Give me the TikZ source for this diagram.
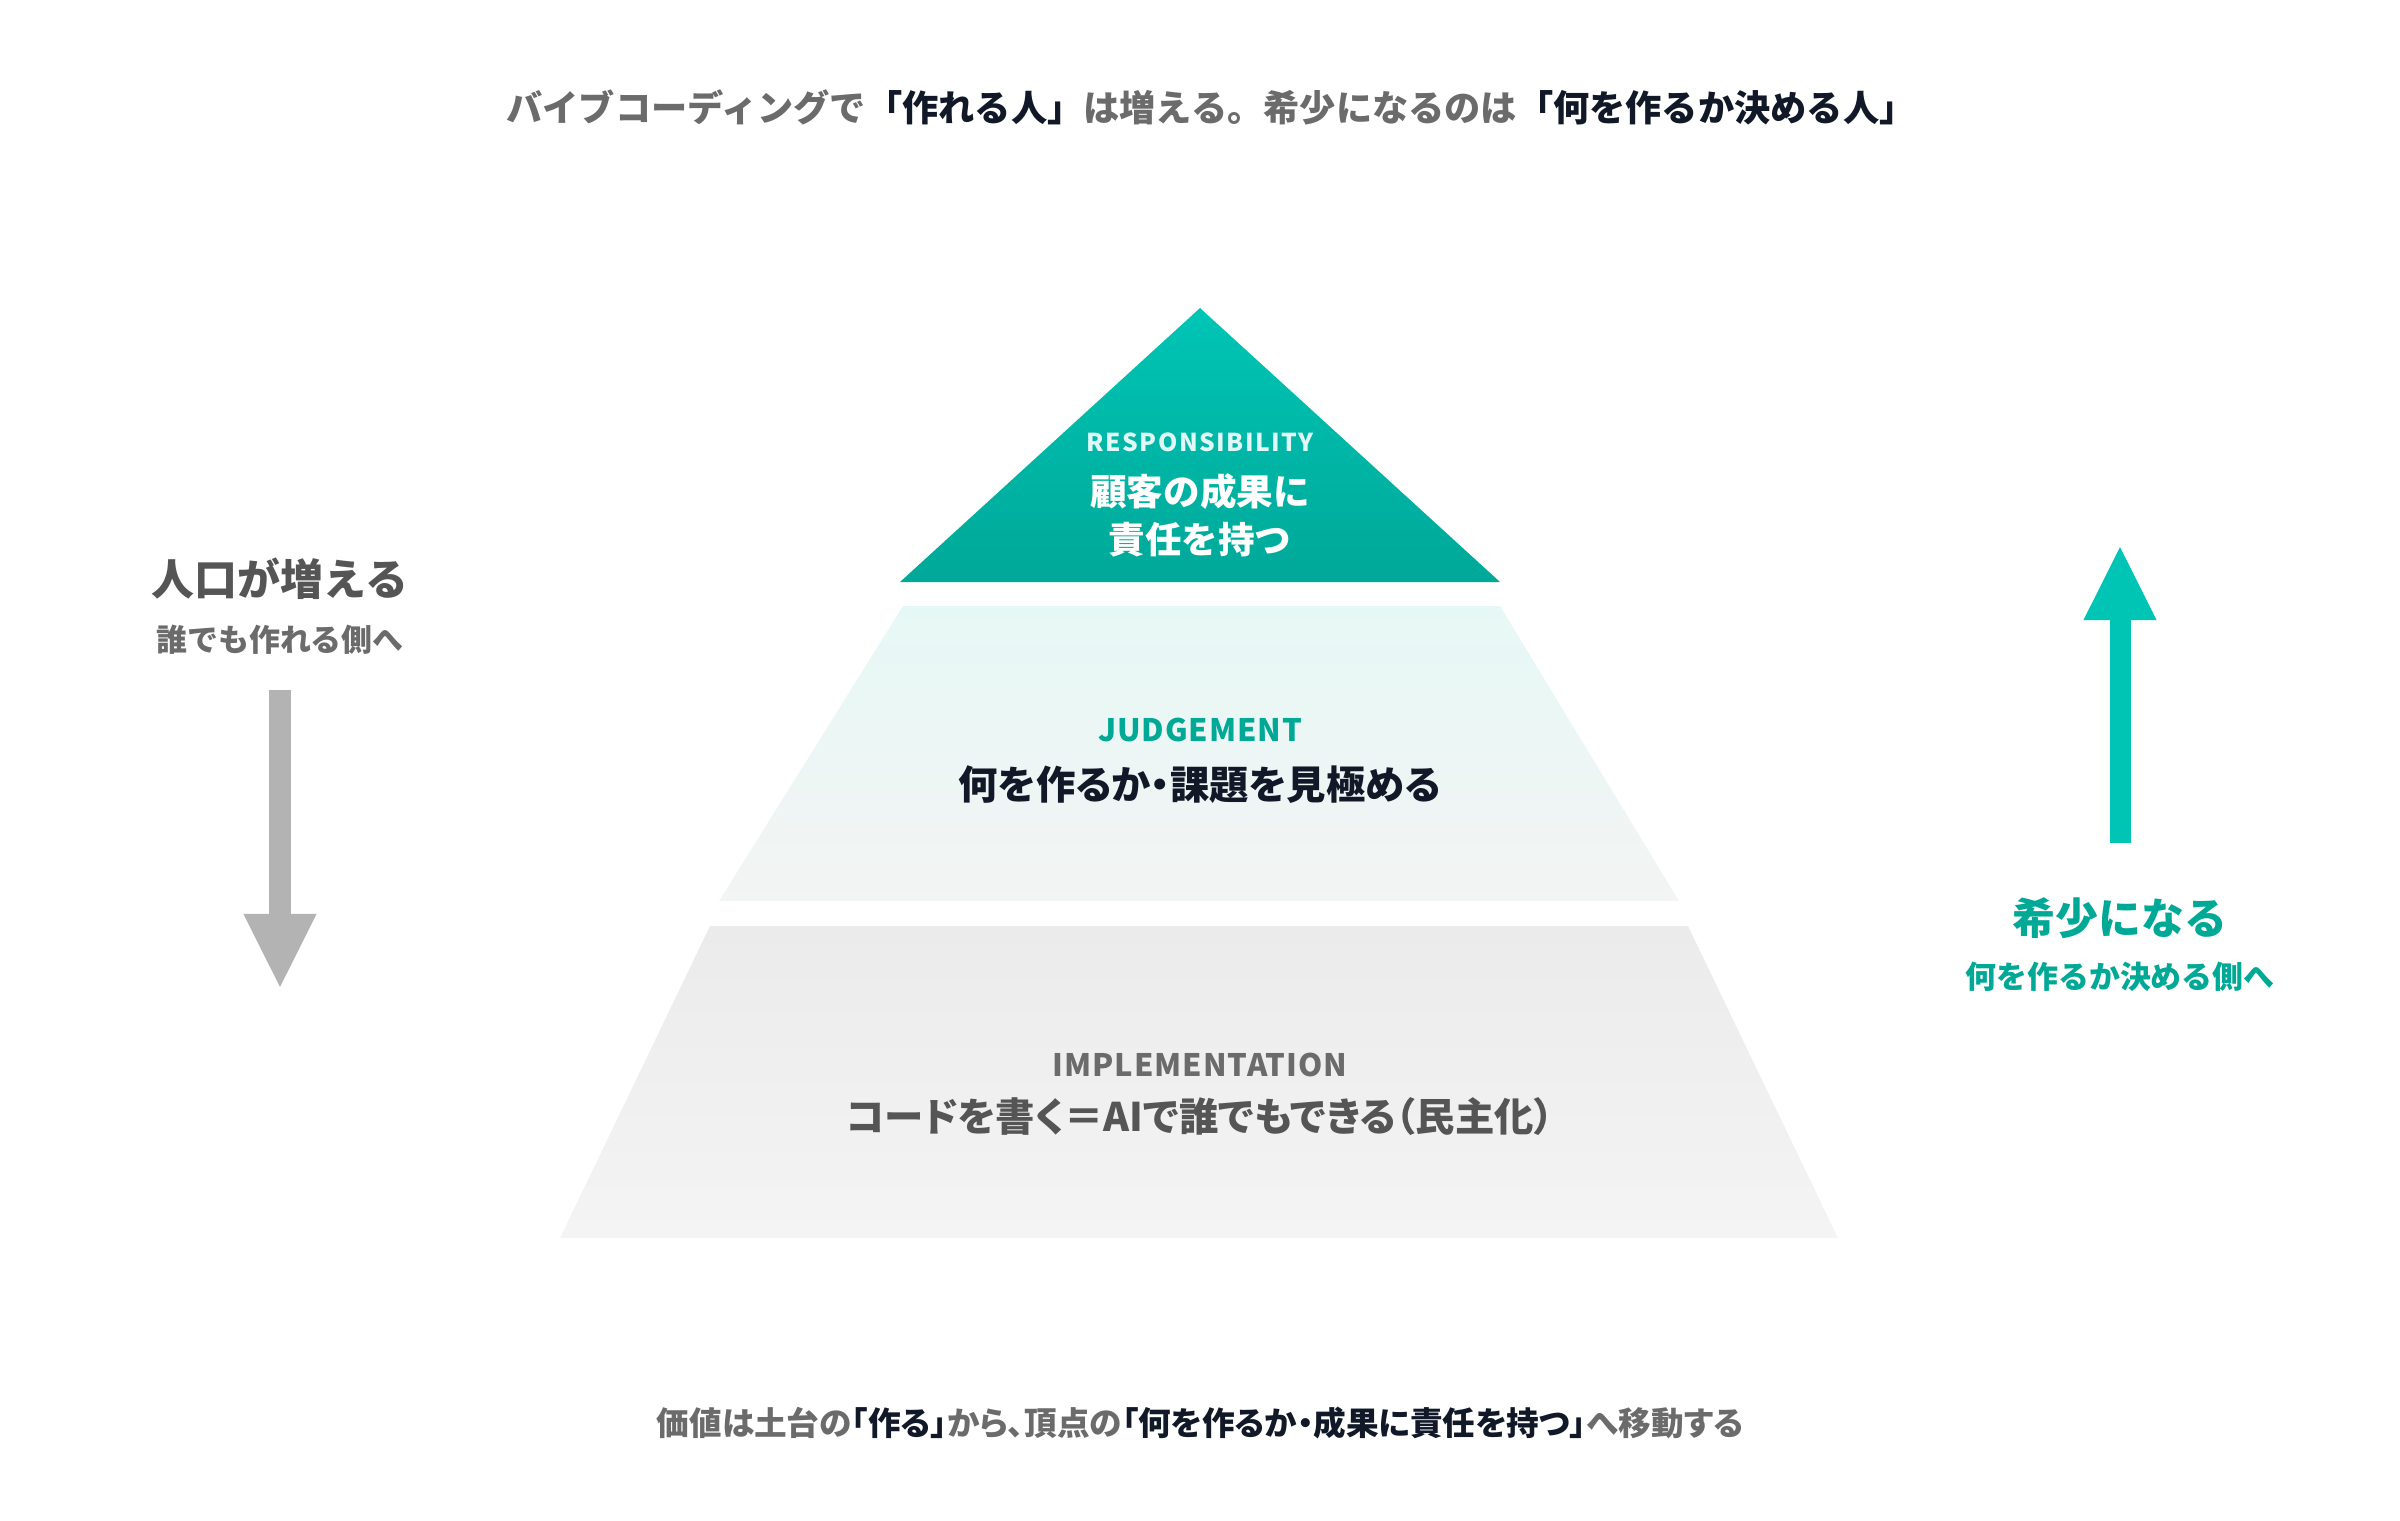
\documentclass[tikz,border=0pt]{standalone}
\usepackage{fontspec}
\setmainfont{Noto Sans CJK JP}
\usepackage{xcolor}
\usetikzlibrary{arrows.meta, positioning}
\definecolor{tealtop}{HTML}{00C5B5}
\definecolor{tealbot}{HTML}{00A898}
\definecolor{tealink}{HTML}{00A896}
\definecolor{ink}{HTML}{111827}
\definecolor{mute}{HTML}{6B6B6B}
\definecolor{charcoal}{HTML}{555555}
\definecolor{arrowgray}{HTML}{B3B3B3}
\definecolor{mintfill}{HTML}{E6F8F5}
\definecolor{mistfill}{HTML}{F3F4F4}
\definecolor{greytop}{HTML}{EBEBEB}
\definecolor{greybot}{HTML}{F4F4F4}
\newcommand{\dk}[1]{\textcolor{ink}{#1}}
\tikzset{
  headline/.style={font=\bfseries\fontsize{10.3pt}{12pt}\selectfont, text=mute, inner sep=0pt},
  tag/.style={font=\bfseries\fontsize{8.8pt}{10pt}\selectfont\addfontfeature{LetterSpace=3}, inner sep=0pt},
  toptag/.style={font=\bfseries\fontsize{7pt}{8pt}\selectfont\addfontfeature{LetterSpace=6}, inner sep=0pt},
  layertext/.style={font=\bfseries\fontsize{11.2pt}{13.7pt}\selectfont\addfontfeature{RawFeature=+palt}, align=center, inner sep=0pt},
  toptext/.style={font=\bfseries\fontsize{10.4pt}{13.7pt}\selectfont, align=center, inner sep=0pt},
  sidehead/.style={font=\bfseries\fontsize{12.2pt}{14pt}\selectfont, inner sep=0pt},
  sidesub/.style={font=\bfseries\fontsize{8.8pt}{10pt}\selectfont, inner sep=0pt},
  caption/.style={font=\bfseries\fontsize{9.28pt}{11pt}\selectfont\addfontfeature{RawFeature=+palt}, text=mute, inner sep=0pt},
  blockarr/.style={line width=0.21cm, -{Triangle[length=0.75cm, width=0.67cm]}},
}
\begin{document}
\begin{tikzpicture}[x=0.01cm, y=-0.01cm]
\useasboundingbox (0,0) rectangle (2400,1520);
% pyramid layers
\shade[top color=tealtop, bottom color=tealbot] (1200,308) -- (1500,582) -- (900,582) -- cycle;
\shade[top color=mintfill, bottom color=mistfill] (903,606) -- (1500,606) -- (1679,901) -- (719,901) -- cycle;
\shade[top color=greytop, bottom color=greybot] (710,926) -- (1688,926) -- (1838,1238) -- (560,1238) -- cycle;

\node[headline] (title) at (1211,107) {バイブコーディングで\dk{「作れる人」}は増える。希少になるのは\dk{「何を作るか決める人」}};

\node[toptag, text=white!88!tealtop] (resptag) at (1200,442) {RESPONSIBILITY};
\node[toptext, text=white] (resp) at (1200,515) {顧客の成果に\\責任を持つ};
\node[tag, text=tealink] (judgetag) at (1200,730) {JUDGEMENT};
\node[layertext, text=ink] (judge) at (1200,785) {何を作るか・課題を見極める};
\node[tag, text=mute] (impltag) at (1200,1065) {IMPLEMENTATION};
\node[layertext, text=charcoal] (impl) at (1200,1117) {コードを書く＝AIで誰でもできる（民主化）};

% left: more people can build
\node[sidehead, text=charcoal] (crowd) at (280,579) {人口が増える};
\node[sidesub, text=mute, below=0.24cm of crowd] (crowdsub) {誰でも作れる側へ};
\coordinate (crowdtop) at (280,690);
\coordinate (crowdtip) at (280,989);
\draw[blockarr, arrowgray] (crowdtop) -- (crowdtip);

% right: scarce deciders
\coordinate (rarebase) at (2120,843);
\coordinate (raretip) at (2120,545);
\draw[blockarr, tealtop] (rarebase) -- (raretip);
\node[sidehead, text=tealink] (rare) at (2120,918) {希少になる};
\node[sidesub, text=tealink, below=0.22cm of rare] (raresub) {何を作るか決める側へ};

\node[caption] (moral) at (1200,1423) {価値は土台の\dk{「作る」}から、頂点の\dk{「何を作るか・成果に責任を持つ」}へ移動する};
\end{tikzpicture}
\end{document}
